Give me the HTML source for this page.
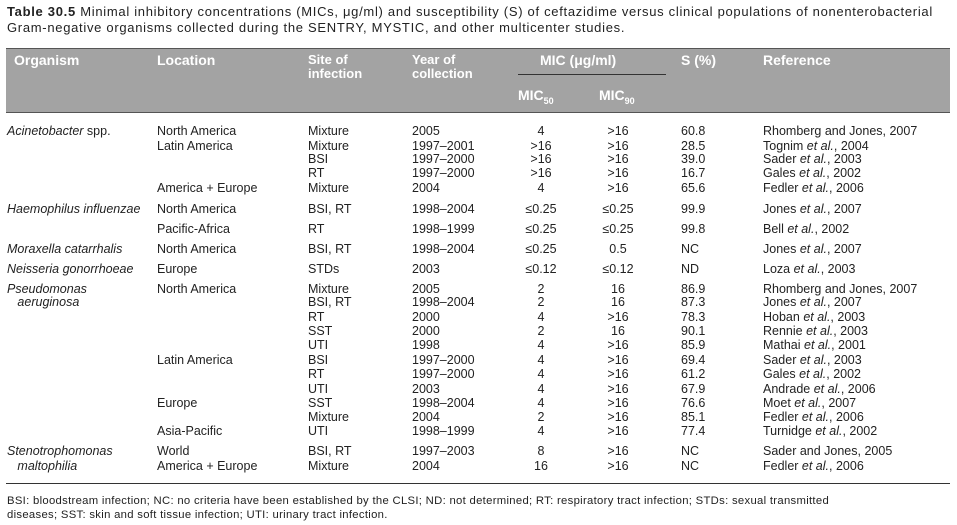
<!DOCTYPE html>
<html><head><meta charset="utf-8"><style>
body{margin:0;width:957px;height:525px;background:#fff;position:relative;font-family:"Liberation Sans",sans-serif;color:#222;overflow:hidden}
.t{position:absolute;white-space:nowrap;font-size:12.5px;line-height:14px}
.c{position:absolute;white-space:nowrap;font-size:12.5px;line-height:14px;text-align:center;width:60px}
.h{position:absolute;white-space:nowrap;font-size:14px;font-weight:bold;color:#fff;line-height:14px}
i{font-style:italic}
.f{position:absolute;left:7px;font-size:11.3px;white-space:nowrap;line-height:14px;letter-spacing:0.3px}
</style></head><body>
<div class="t" style="left:7px;top:5px;font-size:13px;letter-spacing:0.7px"><b>Table 30.5</b> Minimal inhibitory concentrations (MICs, μg/ml) and susceptibility (S) of ceftazidime versus clinical populations of nonenterobacterial</div>
<div class="t" style="left:7px;top:21px;font-size:13px;letter-spacing:0.7px">Gram-negative organisms collected during the SENTRY, MYSTIC, and other multicenter studies.</div>
<div style="position:absolute;left:6px;top:48px;width:944px;height:63px;background:#a3a3a3;border-top:1px solid #555;border-bottom:1px solid #555"></div>
<div style="position:absolute;left:518px;top:74px;width:148px;height:1px;background:#333"></div>
<div class="h" style="left:14px;top:53px">Organism</div>
<div class="h" style="left:157px;top:53px">Location</div>
<div class="h" style="left:308px;top:53px;font-size:13px">Site of<br>infection</div>
<div class="h" style="left:412px;top:53px;font-size:13px">Year of<br>collection</div>
<div class="h" style="left:540px;top:53px">MIC (μg/ml)</div>
<div class="h" style="left:681px;top:53px">S (%)</div>
<div class="h" style="left:763px;top:53px">Reference</div>
<div class="h" style="left:518px;top:88px">MIC<sub style="font-size:9px">50</sub></div>
<div class="h" style="left:599px;top:88px">MIC<sub style="font-size:9px">90</sub></div>

<div id="rows"></div>
<div style="position:absolute;left:6px;top:483px;width:944px;height:1px;background:#333"></div>
<div class="f" style="top:494px">BSI: bloodstream infection; NC: no criteria have been established by the CLSI; ND: not determined; RT: respiratory tract infection; STDs: sexual transmitted</div>
<div class="f" style="top:508px">diseases; SST: skin and soft tissue infection; UTI: urinary tract infection.</div>
<script>
var R=[
[131,'<i>Acinetobacter</i> spp.','North America','Mixture','2005','4','&gt;16','60.8','Rhomberg and Jones, 2007'],
[146,'','Latin America','Mixture','1997–2001','&gt;16','&gt;16','28.5','Tognim <i>et al.</i>, 2004'],
[159,'','','BSI','1997–2000','&gt;16','&gt;16','39.0','Sader <i>et al.</i>, 2003'],
[173,'','','RT','1997–2000','&gt;16','&gt;16','16.7','Gales <i>et al.</i>, 2002'],
[188,'','America + Europe','Mixture','2004','4','&gt;16','65.6','Fedler <i>et al.</i>, 2006'],
[209,'<i>Haemophilus influenzae</i>','North America','BSI, RT','1998–2004','≤0.25','≤0.25','99.9','Jones <i>et al.</i>, 2007'],
[229,'','Pacific-Africa','RT','1998–1999','≤0.25','≤0.25','99.8','Bell <i>et al.</i>, 2002'],
[249,'<i>Moraxella catarrhalis</i>','North America','BSI, RT','1998–2004','≤0.25','0.5','NC','Jones <i>et al.</i>, 2007'],
[269,'<i>Neisseria gonorrhoeae</i>','Europe','STDs','2003','≤0.12','≤0.12','ND','Loza <i>et al.</i>, 2003'],
[289,'<i>Pseudomonas</i>','North America','Mixture','2005','2','16','86.9','Rhomberg and Jones, 2007'],
[302,'&nbsp;&nbsp;&nbsp;<i>aeruginosa</i>','','BSI, RT','1998–2004','2','16','87.3','Jones <i>et al.</i>, 2007'],
[317,'','','RT','2000','4','&gt;16','78.3','Hoban <i>et al.</i>, 2003'],
[331,'','','SST','2000','2','16','90.1','Rennie <i>et al.</i>, 2003'],
[345,'','','UTI','1998','4','&gt;16','85.9','Mathai <i>et al.</i>, 2001'],
[360,'','Latin America','BSI','1997–2000','4','&gt;16','69.4','Sader <i>et al.</i>, 2003'],
[374,'','','RT','1997–2000','4','&gt;16','61.2','Gales <i>et al.</i>, 2002'],
[389,'','','UTI','2003','4','&gt;16','67.9','Andrade <i>et al.</i>, 2006'],
[403,'','Europe','SST','1998–2004','4','&gt;16','76.6','Moet <i>et al.</i>, 2007'],
[417,'','','Mixture','2004','2','&gt;16','85.1','Fedler <i>et al.</i>, 2006'],
[431,'','Asia-Pacific','UTI','1998–1999','4','&gt;16','77.4','Turnidge <i>et al.</i>, 2002'],
[451,'<i>Stenotrophomonas</i>','World','BSI, RT','1997–2003','8','&gt;16','NC','Sader and Jones, 2005'],
[466,'&nbsp;&nbsp;&nbsp;<i>maltophilia</i>','America + Europe','Mixture','2004','16','&gt;16','NC','Fedler <i>et al.</i>, 2006']];
var h='';R.forEach(function(r){var t=r[0]-7;
h+='<div class="t" style="left:7px;top:'+t+'px">'+r[1]+'</div>';
h+='<div class="t" style="left:157px;top:'+t+'px">'+r[2]+'</div>';
h+='<div class="t" style="left:308px;top:'+t+'px">'+r[3]+'</div>';
h+='<div class="t" style="left:412px;top:'+t+'px">'+r[4]+'</div>';
h+='<div class="c" style="left:511px;top:'+t+'px">'+r[5]+'</div>';
h+='<div class="c" style="left:588px;top:'+t+'px">'+r[6]+'</div>';
h+='<div class="t" style="left:681px;top:'+t+'px">'+r[7]+'</div>';
h+='<div class="t" style="left:763px;top:'+t+'px">'+r[8]+'</div>';});
document.getElementById('rows').innerHTML=h;
</script>
</body></html>
